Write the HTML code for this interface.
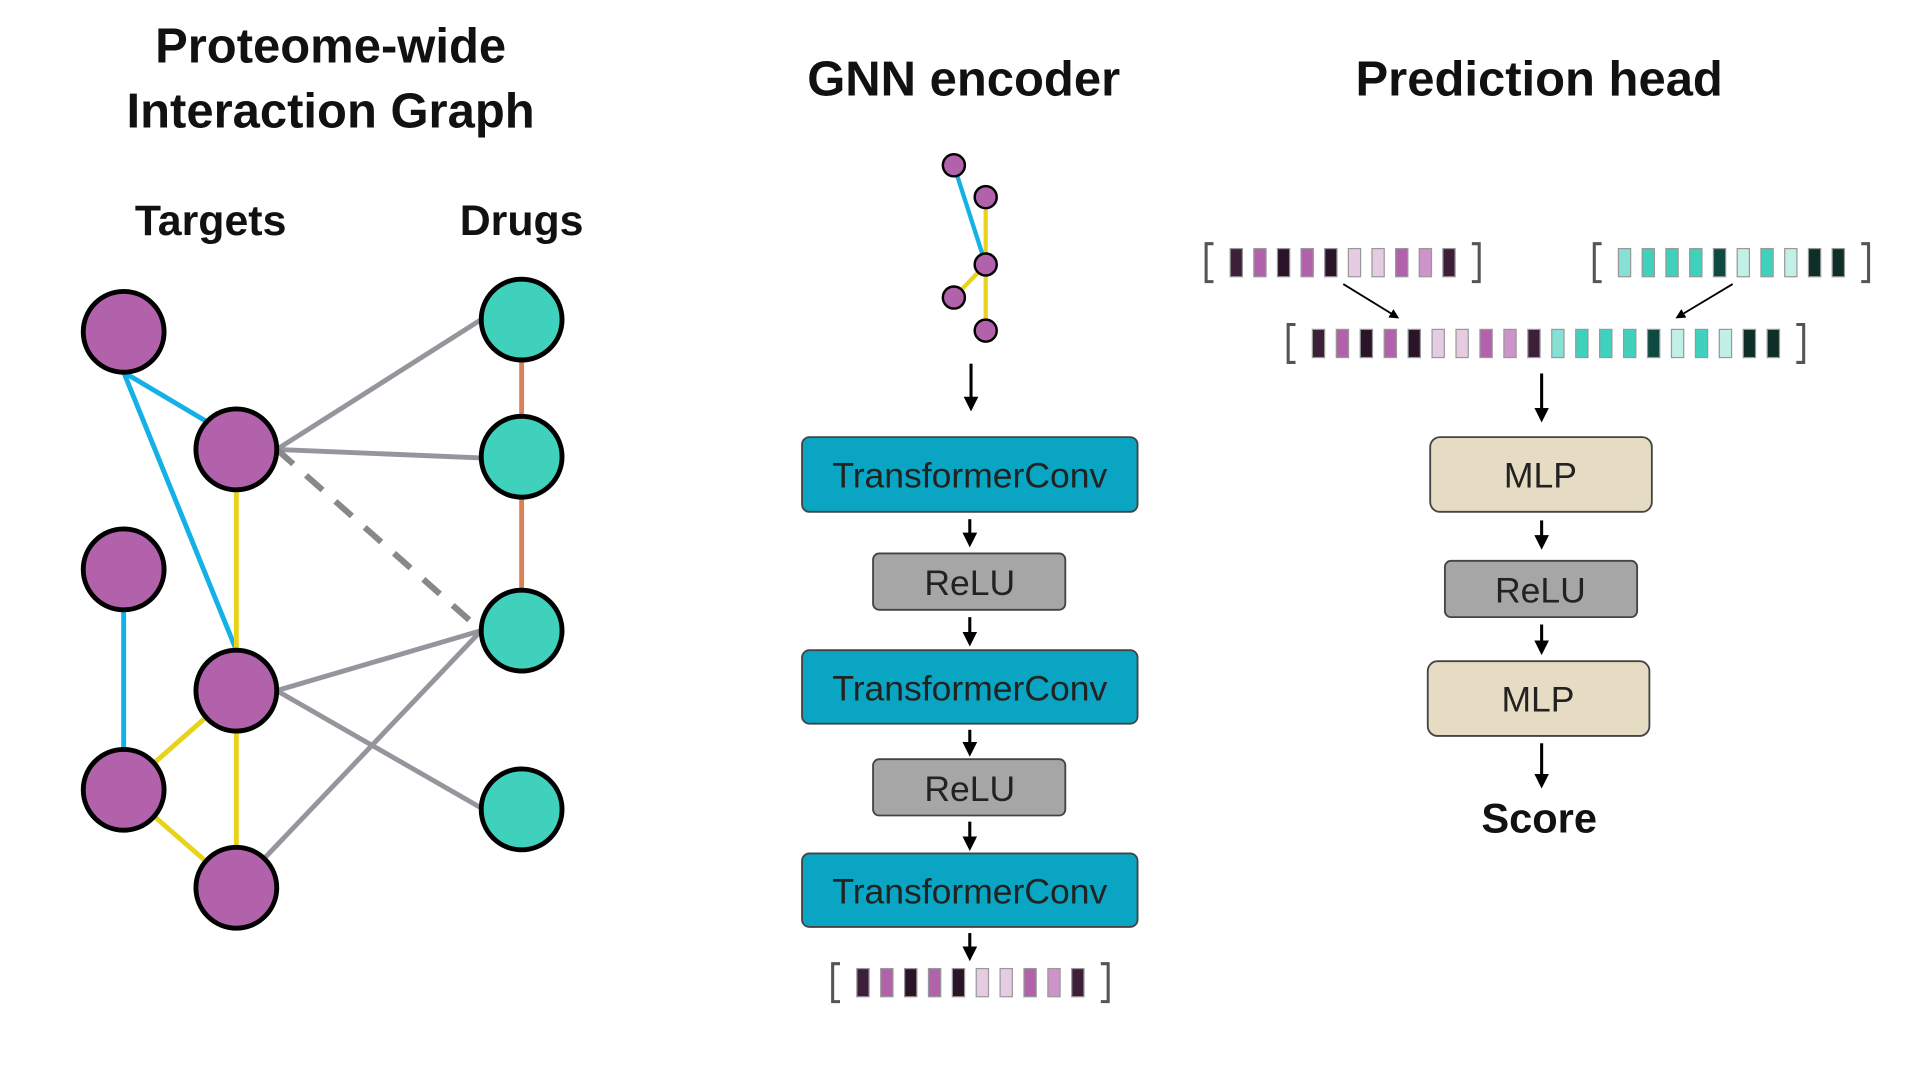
<!DOCTYPE html>
<html><head><meta charset="utf-8"><style>
html,body{margin:0;padding:0;background:#fff;width:1920px;height:1080px;overflow:hidden}
svg{display:block}
text{font-family:"Liberation Sans",sans-serif}
</style></head><body>
<svg id="s" width="1920" height="1080" viewBox="0 0 1568 882" xmlns="http://www.w3.org/2000/svg">
<defs><marker id="ah" markerWidth="8" markerHeight="8" refX="6" refY="4" orient="auto" markerUnits="userSpaceOnUse"><path d="M0,0 L8,4 L0,8 z" fill="#000"/></marker>
<marker id="ah2" markerWidth="12" markerHeight="12" refX="9" refY="6" orient="auto" markerUnits="userSpaceOnUse"><path d="M0,0 L12,6 L0,12 z" fill="#000"/></marker></defs>
<g font-size="40" text-anchor="middle" font-weight="bold" fill="#111">
<text x="270" y="51">Proteome-wide</text>
<text x="270" y="104">Interaction Graph</text>
<text x="787" y="78">GNN encoder</text>
<text x="1257" y="78">Prediction head</text>
<text x="172" y="192" font-size="35">Targets</text>
<text x="426" y="192" font-size="35">Drugs</text>
<text x="1257" y="680" font-size="34">Score</text>
</g>
<g stroke-width="4" fill="none">
<line x1="101" y1="304" x2="170" y2="345" stroke="#14b1e7"/>
<line x1="101" y1="304" x2="193" y2="531" stroke="#14b1e7"/>
<line x1="101" y1="465" x2="101" y2="645" stroke="#14b1e7"/>
<line x1="193" y1="367" x2="193" y2="564" stroke="#e8d31a"/>
<line x1="193" y1="564" x2="101" y2="645" stroke="#e8d31a"/>
<line x1="193" y1="564" x2="193" y2="725" stroke="#e8d31a"/>
<line x1="101" y1="645" x2="193" y2="725" stroke="#e8d31a"/>
<line x1="426" y1="261" x2="426" y2="515" stroke="#d9825a"/>
<g stroke="#94969c">
<line x1="226" y1="367" x2="393" y2="261"/>
<line x1="226" y1="367" x2="393" y2="374"/>
<line x1="226" y1="564" x2="393" y2="515"/>
<line x1="226" y1="564" x2="395" y2="661"/>
<line x1="193" y1="725" x2="393" y2="515"/>
<line x1="226" y1="367" x2="393" y2="515" stroke="#888" stroke-width="5" stroke-dasharray="18,14"/>
</g></g>
<g stroke="#000" stroke-width="4" fill="#b162ab">
<circle cx="101" cy="271" r="33"/><circle cx="193" cy="367" r="33"/><circle cx="101" cy="465" r="33"/>
<circle cx="193" cy="564" r="33"/><circle cx="101" cy="645" r="33"/><circle cx="193" cy="725" r="33"/>
</g>
<g stroke="#000" stroke-width="4" fill="#40d1bc">
<circle cx="426" cy="261" r="33"/><circle cx="426" cy="373" r="33"/><circle cx="426" cy="515" r="33"/><circle cx="426" cy="661" r="33"/>
</g>
<!-- small graph -->
<g stroke-width="3.5">
<line x1="779" y1="135" x2="805" y2="216" stroke="#14b1e7"/>
<line x1="805" y1="161" x2="805" y2="270" stroke="#e8d31a"/>
<line x1="805" y1="216" x2="779" y2="243" stroke="#e8d31a"/>
</g>
<g stroke="#000" stroke-width="2" fill="#b162ab">
<circle cx="779" cy="135" r="9"/><circle cx="805" cy="161" r="9"/><circle cx="805" cy="216" r="9"/><circle cx="779" cy="243" r="9"/><circle cx="805" cy="270" r="9"/>
</g>
<g stroke="#000" stroke-width="2.5">
<line x1="793" y1="297" x2="793" y2="333" marker-end="url(#ah2)"/>
<line x1="792" y1="424" x2="792" y2="444" marker-end="url(#ah2)"/>
<line x1="792" y1="504" x2="792" y2="525" marker-end="url(#ah2)"/>
<line x1="792" y1="596" x2="792" y2="615" marker-end="url(#ah2)"/>
<line x1="792" y1="671" x2="792" y2="692" marker-end="url(#ah2)"/>
<line x1="792" y1="762" x2="792" y2="782" marker-end="url(#ah2)"/>
<line x1="1259" y1="305" x2="1259" y2="342" marker-end="url(#ah2)"/>
<line x1="1259" y1="425" x2="1259" y2="446" marker-end="url(#ah2)"/>
<line x1="1259" y1="510" x2="1259" y2="532" marker-end="url(#ah2)"/>
<line x1="1259" y1="607" x2="1259" y2="641" marker-end="url(#ah2)"/>
</g>
<g stroke="#000" stroke-width="1.5">
<line x1="1097" y1="232" x2="1141" y2="259" marker-end="url(#ah)"/>
<line x1="1415" y1="232" x2="1370" y2="259" marker-end="url(#ah)"/>
</g>
<g stroke="#444" stroke-width="1.5" font-size="30" text-anchor="middle">
<rect x="655" y="357" width="274" height="61" rx="6" fill="#0aa5c2"/>
<rect x="713" y="452" width="157" height="46" rx="5" fill="#a6a6a6"/>
<rect x="655" y="531" width="274" height="60" rx="6" fill="#0aa5c2"/>
<rect x="713" y="620" width="157" height="46" rx="5" fill="#a6a6a6"/>
<rect x="655" y="697" width="274" height="60" rx="6" fill="#0aa5c2"/>
<rect x="1168" y="357" width="181" height="61" rx="8" fill="#e5dcc3"/>
<rect x="1180" y="458" width="157" height="46" rx="5" fill="#a6a6a6"/>
<rect x="1166" y="540" width="181" height="61" rx="8" fill="#e5dcc3"/>
</g>
<g font-size="29" text-anchor="middle" fill="#222">
<text x="792" y="398">TransformerConv</text>
<text x="792" y="486">ReLU</text>
<text x="792" y="572">TransformerConv</text>
<text x="792" y="654">ReLU</text>
<text x="792" y="738">TransformerConv</text>
<text x="1258" y="398">MLP</text>
<text x="1258" y="492">ReLU</text>
<text x="1256" y="581">MLP</text>
</g>
<g id="vecs"></g>
</svg>
<script>
var P=["#3d1f3a","#b162ab","#2a1528","#b162ab","#2a1528","#e6cce3","#e6cce3","#b162ab","#cc94c8","#3d1f3a"];
var T=["#86e0d3","#40d1bc","#40d1bc","#40d1bc","#0f4a40","#c2efe8","#40d1bc","#c2efe8","#0e2e28","#0e2e28"];
var g=document.getElementById("vecs"),h="";
function vec(x0,x1,y,cols){
 var hgt=31;
 h+='<path d="M'+(x0+6)+','+y+' h-6 v'+hgt+' h6 M'+(x1-6)+','+y+' h6 v'+hgt+' h-6" stroke="#555" stroke-width="2.5" fill="none"/>';
 var n=cols.length,start=x0+15,pitch=(x1-x0-30)/n;
 for(var i=0;i<n;i++){h+='<rect x="'+(start+i*pitch+(pitch-10)/2)+'" y="'+(y+4)+'" width="10" height="'+(hgt-8)+'" fill="'+cols[i]+'" stroke="#999" stroke-width="1"/>';}
}
vec(985,1208,199,P);
vec(1302,1526,199,T);
vec(1052,1473,265,P.concat(T));
vec(680,905,787,P);
g.innerHTML=h;
</script>
</body></html>
